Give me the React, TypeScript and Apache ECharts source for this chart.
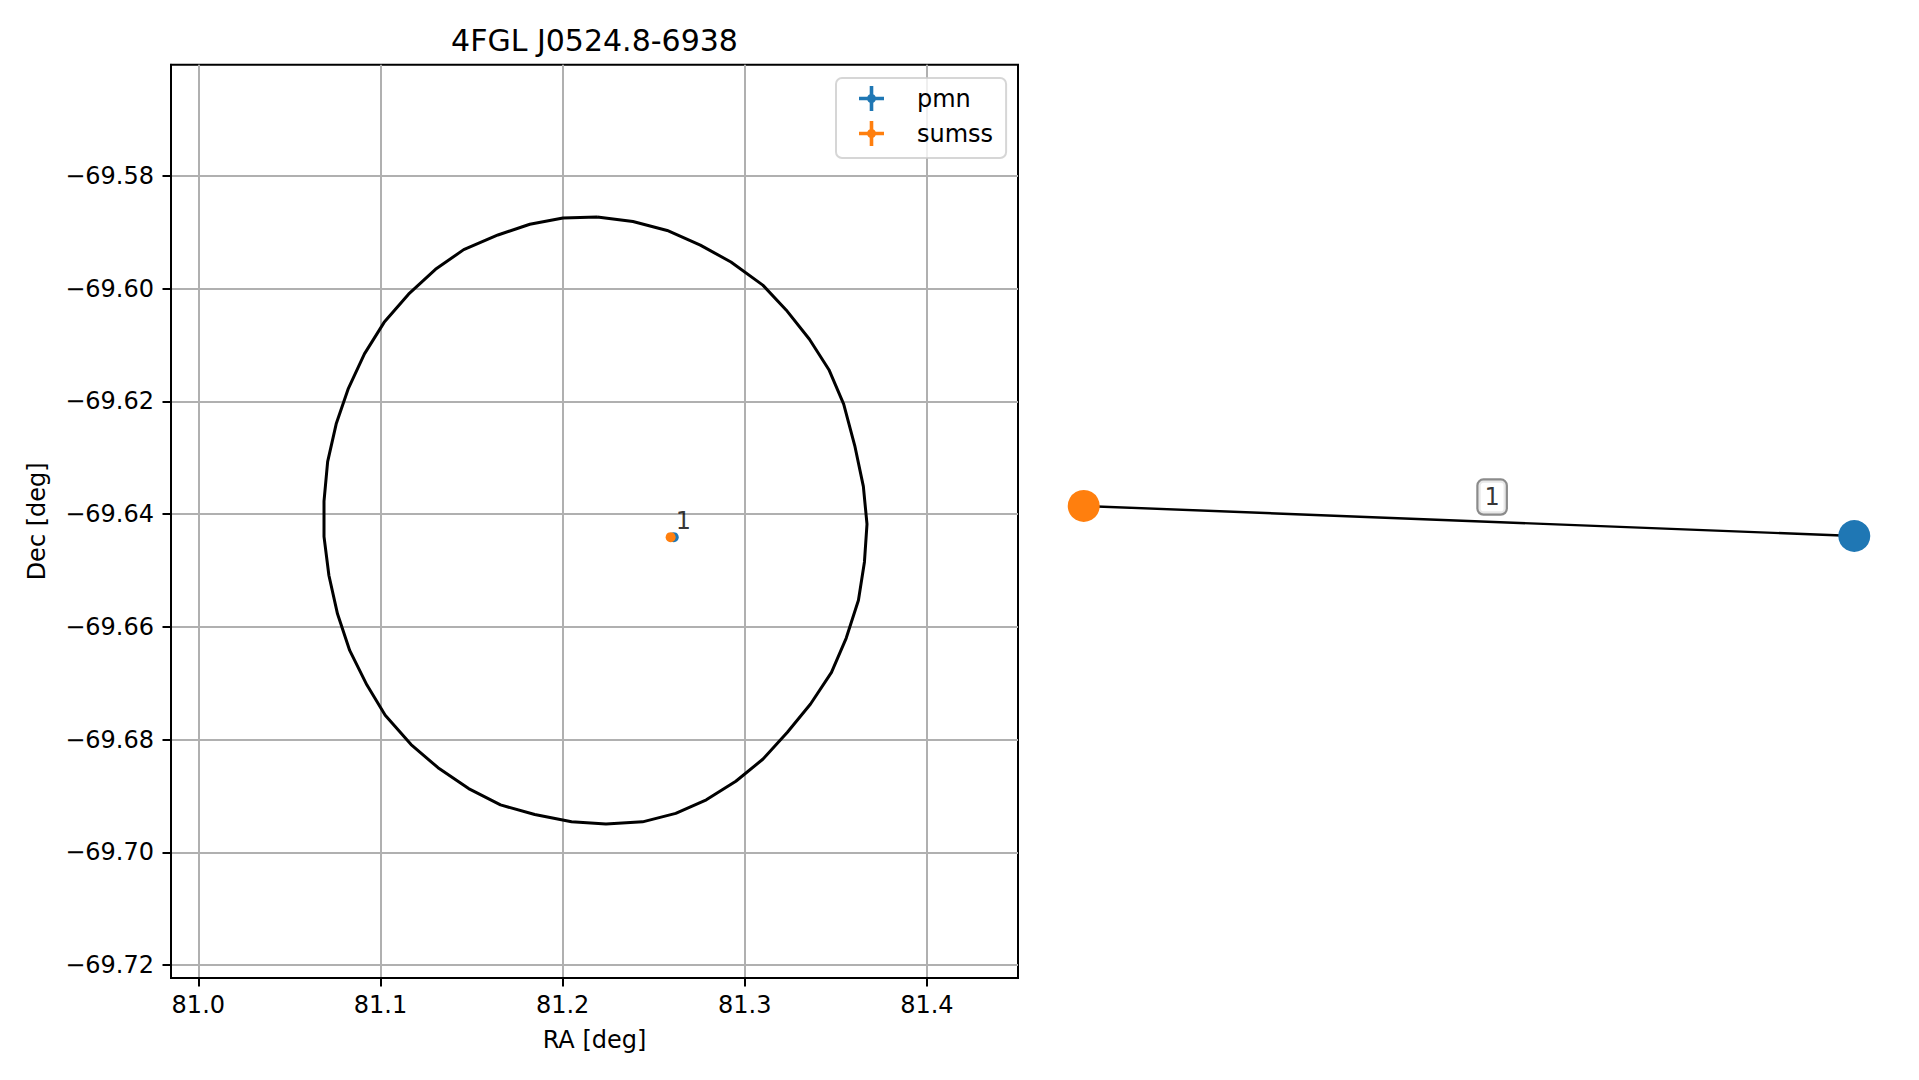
import React, { useEffect, useRef } from 'react';
import * as echarts from 'echarts';

const FONT = 'DejaVu Sans';
const TITLE = '4FGL J0524.8-6938';

// Left panel: axes ticks
const xTicks = [81.0, 81.1, 81.2, 81.3, 81.4];
const yTicks = [-69.72, -69.7, -69.68, -69.66, -69.64, -69.62, -69.6, -69.58];
const xRange = [80.985, 81.45];
const yRange = [-69.7223, -69.5603];

// Localisation ellipse outline (vertices)
const ellipseRA = [81.2190, 81.2386, 81.2574, 81.2756, 81.2924, 81.3099, 81.3227, 81.3355, 81.3462, 81.3543, 81.3604, 81.3651, 81.3671, 81.3657, 81.3624, 81.3557, 81.3476, 81.3361, 81.3234, 81.3099, 81.2951, 81.2789, 81.2621, 81.2439, 81.2238, 81.2049, 81.1847, 81.1659, 81.1484, 81.1316, 81.1168, 81.1026, 81.0925, 81.0831, 81.0764, 81.0717, 81.0690, 81.0690, 81.0710, 81.0757, 81.0824, 81.0912, 81.1020, 81.1154, 81.1302, 81.1457, 81.1645, 81.1820, 81.2002, 81.2190];
const ellipseDec = [-69.5873, -69.5881, -69.5897, -69.5923, -69.5953, -69.5994, -69.6038, -69.6090, -69.6144, -69.6205, -69.6279, -69.6351, -69.6418, -69.6485, -69.6553, -69.6620, -69.6681, -69.6737, -69.6787, -69.6835, -69.6874, -69.6907, -69.6931, -69.6946, -69.6950, -69.6946, -69.6933, -69.6916, -69.6887, -69.6850, -69.6809, -69.6757, -69.6703, -69.6642, -69.6577, -69.6509, -69.6440, -69.6377, -69.6307, -69.6240, -69.6177, -69.6116, -69.6060, -69.6010, -69.5966, -69.5931, -69.5905, -69.5886, -69.5875, -69.5873];

// Catalogue sources
const pmnRA = [81.2610];
const pmnDec = [-69.6441];
const sumssRA = [81.2593];
const sumssDec = [-69.6441];
const annotationText = ['1'];

// Right panel: match graph
const nodeNames = ['sumss', 'pmn'];
const nodeX = [-1, 1];
const nodeY = [0.040, -0.038];
const nodeColors = ['#ff7f0e', '#1f77b4'];
const edges = [['sumss', 'pmn']];
const edgeLabels = ['1'];
const edgeLabelX = [0.06];
const edgeLabelY = [0.063];

const ICON = 'path://M0,10.7 H25 V14.3 H0 Z M10.7,0 H14.3 V25 H10.7 Z M12.5,8 A4.5,4.5 0 1,1 12.49,8 Z';

const minusFmt = (v: number, d: number) => (v < 0 ? '\u2212' : '') + Math.abs(v).toFixed(d);

function buildOption() {
  const axisLineStyle = { color: '#000', width: 2 };
  return {
    animation: false,
    backgroundColor: '#fff',
    textStyle: { fontFamily: FONT },
    title: {
      text: TITLE,
      left: 594.5,
      top: 25,
      textAlign: 'center',
      padding: 0,
      textStyle: { fontSize: 30, fontWeight: 'normal', color: '#000', fontFamily: FONT },
    },
    legend: {
      data: [
        { name: 'pmn', icon: ICON },
        { name: 'sumss', icon: ICON },
      ],
      orient: 'vertical',
      left: 836,
      top: 78,
      itemWidth: 25,
      itemHeight: 25,
      itemGap: 10,
      padding: [8, 13, 12, 23],
      borderColor: 'rgba(204,204,204,0.8)',
      borderWidth: 2,
      borderRadius: 6,
      backgroundColor: 'rgba(255,255,255,0.8)',
      selectedMode: false,
      textStyle: { fontSize: 24, color: '#000', fontFamily: FONT, padding: [3, 0, 0, 28], lineHeight: 22 },
    },
    grid: [
      { left: 171, top: 64.7, width: 847, height: 913.3, show: true, borderColor: '#000', borderWidth: 2, backgroundColor: 'transparent' },
      { left: 1045.2, top: 64.7, width: 847.6, height: 913.3 },
    ],
    xAxis: [
      {
        gridIndex: 0,
        type: 'value',
        min: xRange[0],
        max: xRange[1],
        name: 'RA [deg]',
        nameLocation: 'middle',
        nameGap: 50,
        nameTextStyle: { fontSize: 24, color: '#000', fontFamily: FONT },
        axisLine: { show: true, onZero: false, lineStyle: axisLineStyle },
        axisTick: { show: true, customValues: xTicks, length: 8.5, lineStyle: axisLineStyle },
        axisLabel: { show: true, customValues: xTicks, formatter: (v: number) => v.toFixed(1), fontSize: 24, color: '#000', margin: 15, fontFamily: FONT },
        splitLine: { show: true, lineStyle: { color: '#b0b0b0', width: 2 } },
      },
      { gridIndex: 1, type: 'value', min: -1.1, max: 1.1, show: false, splitLine: { show: false } },
    ],
    yAxis: [
      {
        gridIndex: 0,
        type: 'value',
        min: yRange[0],
        max: yRange[1],
        name: 'Dec [deg]',
        nameLocation: 'middle',
        nameRotate: 90,
        nameGap: 122,
        nameTextStyle: { fontSize: 24, color: '#000', fontFamily: FONT },
        axisLine: { show: true, onZero: false, lineStyle: axisLineStyle },
        axisTick: { show: true, customValues: yTicks, length: 8.5, lineStyle: axisLineStyle },
        axisLabel: { show: true, customValues: yTicks, formatter: (v: number) => minusFmt(v, 2), fontSize: 24, color: '#000', margin: 17, fontFamily: FONT },
        splitLine: { show: true, lineStyle: { color: '#b0b0b0', width: 2 } },
      },
      { gridIndex: 1, type: 'value', min: -1.185, max: 1.185, show: false, splitLine: { show: false } },
    ],
    series: [
      {
        type: 'line',
        name: 'ellipse',
        xAxisIndex: 0,
        yAxisIndex: 0,
        data: ellipseRA.map((ra, i) => [ra, ellipseDec[i]]),
        showSymbol: false,
        symbol: 'none',
        lineStyle: { color: '#000', width: 3 },
        silent: true,
        z: 2,
      },
      {
        type: 'scatter',
        name: 'pmn',
        xAxisIndex: 0,
        yAxisIndex: 0,
        data: pmnRA.map((ra, i) => [ra, pmnDec[i]]),
        symbolSize: 10,
        itemStyle: { color: '#1f77b4', opacity: 1 },
        z: 3,
      },
      {
        type: 'scatter',
        name: 'sumss',
        xAxisIndex: 0,
        yAxisIndex: 0,
        data: sumssRA.map((ra, i) => [ra, sumssDec[i]]),
        symbolSize: 10,
        itemStyle: { color: '#ff7f0e', opacity: 1 },
        z: 4,
      },
      {
        type: 'scatter',
        name: 'annotation',
        xAxisIndex: 0,
        yAxisIndex: 0,
        data: pmnRA.map((ra, i) => ({ value: [ra, pmnDec[i]], label: { formatter: annotationText[i] } })),
        symbolSize: 0,
        silent: true,
        label: {
          show: true,
          position: [2, -4],
          align: 'left',
          verticalAlign: 'bottom',
          fontSize: 24,
          color: '#000',
          fontFamily: FONT,
        },
        z: 5,
      },
      {
        type: 'graph',
        name: 'graph',
        coordinateSystem: 'cartesian2d',
        xAxisIndex: 1,
        yAxisIndex: 1,
        layout: 'none',
        symbolSize: 32,
        data: nodeNames.map((n, i) => ({ name: n, value: [nodeX[i], nodeY[i]], itemStyle: { color: nodeColors[i] } })),
        links: edges.map(([s, t]) => ({ source: s, target: t })),
        lineStyle: { color: '#000', width: 2.4, opacity: 1, curveness: 0 },
        label: { show: false },
        edgeLabel: { show: false },
        silent: true,
        z: 2,
      },
      {
        type: 'scatter',
        name: 'edgeLabel',
        xAxisIndex: 1,
        yAxisIndex: 1,
        data: edgeLabelX.map((x, i) => ({ value: [x, edgeLabelY[i]], label: { formatter: edgeLabels[i] } })),
        symbolSize: 0,
        silent: true,
        label: {
          show: true,
          position: 'inside',
          fontSize: 24,
          lineHeight: 24,
          color: '#000',
          fontFamily: FONT,
          backgroundColor: '#fff',
          borderColor: '#6e6e6e',
          borderWidth: 2.2,
          borderRadius: 5,
          padding: [5, 6, 4, 6],
        },
        z: 5,
      },
    ],
  };
}

export default function App() {
  const ref = useRef<HTMLDivElement>(null);
  useEffect(() => {
    if (!ref.current) return;
    const chart = echarts.init(ref.current, null, { renderer: 'svg' });
    chart.setOption(buildOption() as any);
    return () => chart.dispose();
  }, []);
  return (
    <div
      ref={ref}
      style={{ position: 'fixed', left: 0, top: 0, width: '1919px', height: '1080px', background: '#fff' }}
    />
  );
}
